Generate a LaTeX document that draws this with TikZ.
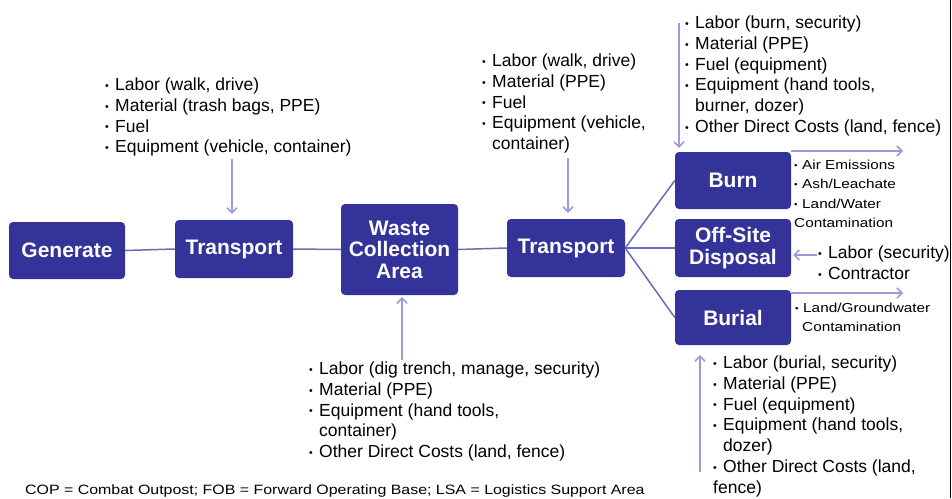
\documentclass[tikz,border=0pt]{standalone}
\usepackage{fontspec}
\setmainfont{Liberation Sans}
\newfontfamily\widefont[FakeStretch=1.18]{Liberation Sans}
\usetikzlibrary{arrows.meta}
\definecolor{boxblue}{HTML}{333399}
\definecolor{linecol}{HTML}{6B6BB8}
\definecolor{arrcol}{HTML}{9A9ADC}
\newcommand\bul{\makebox[10pt][l]{\fontsize{10.5}{10.5}\selectfont\raisebox{1.2pt}{•}}}
\newcommand\sbul{\makebox[8pt][l]{\fontsize{8.5}{8.5}\selectfont\raisebox{1pt}{•}}}
\newcommand\ind{\hspace*{10pt}}
\begin{document}
\begin{tikzpicture}[x=1pt,y=-1pt,
  box/.style={rectangle, rounded corners=4pt, fill=boxblue, text=white, inner sep=0pt, align=center,
    font=\bfseries\fontsize{21}{21.5}\selectfont},
  list/.style={anchor=north west, inner sep=0pt, align=left, font=\fontsize{17.5}{20.8}\selectfont},
  small/.style={anchor=north west, inner sep=0pt, align=left, font=\widefont\fontsize{13}{19.3}\selectfont},
  conn/.style={draw=linecol, line width=1.5pt},
  arr/.style={draw=arrcol, line width=1.5pt, -{Straight Barb[length=5pt,width=10pt]}}]
\fill[white] (0,0) rectangle (952,498);
\useasboundingbox (0,0) rectangle (952,498);

% boxes
\node[box, minimum width=116pt, minimum height=57pt] (gen) at (67,250.5) {Generate};
\node[box, minimum width=118pt, minimum height=58pt] (tr1) at (234,249) {Transport};
\node[box, minimum width=117pt, minimum height=91pt] (wca) at (399.5,249.5) {Waste\\Collection\\Area};
\node[box, minimum width=118pt, minimum height=58pt] (tr2) at (566,248) {Transport};
\node[box, minimum width=116pt, minimum height=57pt] (burn) at (733,180.5) {Burn};
\node[box, minimum width=116pt, minimum height=58pt] (off) at (733,248) {Off-Site\\Disposal};
\node[box, minimum width=116pt, minimum height=55pt] (burial) at (733,317.5) {Burial};

% connectors
\draw[conn] (gen.east) -- (tr1.west);
\draw[conn] (tr1.east) -- (wca.west);
\draw[conn] (wca.east) -- (tr2.west);
\draw[conn] (tr2.east) -- (burn.west);
\draw[conn] (tr2.east) -- (off.west);
\draw[conn] (tr2.east) -- (burial.west);

% lists
\node[list] (lA) at (105,77.6) {\bul Labor (walk, drive)\\\bul Material (trash bags, PPE)\\\bul Fuel\\\bul Equipment (vehicle, container)};
\node[list] (lB) at (482,53.6) {\bul Labor (walk, drive)\\\bul Material (PPE)\\\bul Fuel\\\bul Equipment (vehicle,\\\ind container)};
\node[list] (lC) at (685,15.6) {\bul Labor (burn, security)\\\bul Material (PPE)\\\bul Fuel (equipment)\\\bul Equipment (hand tools,\\\ind burner, dozer)\\\bul Other Direct Costs (land, fence)};
\node[list] (lD) at (713,355.6) {\bul Labor (burial, security)\\\bul Material (PPE)\\\bul Fuel (equipment)\\\bul Equipment (hand tools,\\\ind dozer)\\\bul Other Direct Costs (land,\\fence)};
\node[list] (lE) at (309,361.6) {\bul Labor (dig trench, manage, security)\\\bul Material (PPE)\\\bul Equipment (hand tools,\\\ind container)\\\bul Other Direct Costs (land, fence)};
\node[list] (lO) at (818,245.6) {\bul Labor (security)\\\bul Contractor};
\node[small] (sB) at (794,160) {\sbul Air Emissions\\\sbul Ash/Leachate\\\sbul Land/Water\\Contamination};
\node[small] (sU) at (795,302.5) {\sbul Land/Groundwater\\\hspace*{7pt}Contamination};

% arrows
\coordinate (aA) at (232,159);
\draw[arr, shorten >=6pt] (aA) -- (aA |- tr1.north);
\coordinate (aE) at (402,360);
\draw[arr, shorten >=2pt] (aE) -- (aE |- wca.south);
\coordinate (aB) at (568,158);
\draw[arr, shorten >=6pt] (aB) -- (aB |- tr2.north);
\coordinate (aC) at (679,23);
\draw[arr, shorten >=4pt] (aC) -- (aC |- burn.north);
\coordinate (oB) at (903,151);
\draw[arr] (oB -| burn.east) -- (oB);
\coordinate (oO) at (817,255);
\draw[arr, shorten >=2pt] (oO) -- (oO -| off.east);
\coordinate (oU) at (903,293);
\draw[arr] (oU -| burial.east) -- (oU);
\coordinate (aD) at (700,472);
\draw[arr, shorten >=10pt] (aD) -- (aD |- burial.south);

% footer and edge
\node[anchor=base west, inner sep=0pt, font=\widefont\fontsize{13.5}{14}\selectfont] (foot) at (25,494.3) {COP = Combat Outpost; FOB = Forward Operating Base; LSA = Logistics Support Area};
\draw[line width=1.6pt] (950.5,0) -- (950.5,498);
\end{tikzpicture}
\end{document}
